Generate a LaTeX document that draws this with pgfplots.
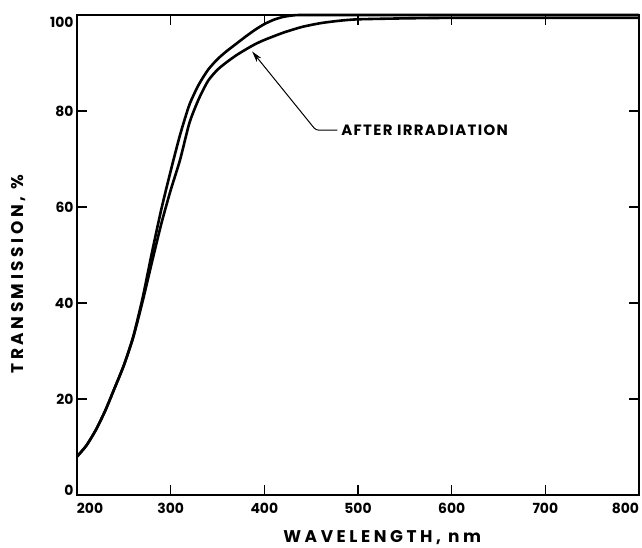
\documentclass[border=0pt]{standalone}
\usepackage{fontspec}
\setmainfont{Poppins}
\newfontfamily\widefont[LetterSpace=21]{Poppins}
\newfontfamily\notefont[LetterSpace=9]{Poppins}
\usepackage{pgfplots}
\pgfplotsset{compat=1.18}
\usetikzlibrary{arrows.meta}

\begin{document}
\begin{tikzpicture}
% page = 642 x 548 px, axis box starts at (77,495) px
\useasboundingbox (-77bp,-53bp) rectangle (565bp,495bp);
\begin{axis}[
    scale only axis,
    width=562bp, height=480bp,
    xmin=200, xmax=800,
    ymin=0, ymax=100,
    xtick={200,300,...,800},
    ytick={0,20,...,100},
    % end labels sit inside the box, as in the original
    xticklabels={{\makebox[0pt][l]{200}},300,400,500,600,700,{\makebox[0pt][r]{800}}},
    yticklabels={{\raisebox{0pt}[0pt][0pt]{0}},20,40,60,80,{\raisebox{-13bp}[0pt][0pt]{100}}},
    tick align=inside,
    major tick length=10bp,
    axis line style={line width=1.8bp},
    every tick/.style={line width=1.2bp, black},
    tick label style={font=\fontsize{14}{14}\selectfont\bfseries},
    xticklabel style={yshift=-5bp},
    xlabel={WAVELENGTH, nm},
    ylabel={TRANSMISSION, \%},
    label style={font=\widefont\fontsize{17}{17}\selectfont\bfseries},
    xlabel style={at={(axis description cs:0.543,0)}, anchor=center, yshift=-43bp},
    ylabel style={at={(axis description cs:0,0.46)}, anchor=center, yshift=58bp},
    clip=false,
]

% before irradiation
\addplot[black, line width=2.6bp, smooth, tension=0.4] coordinates {
    (200,8) (210,10.3) (220,13.5) (230,17.5) (240,22.2) (250,27) (260,33)
    (270,41) (280,50.5) (290,59.5) (300,67.5) (310,75) (320,81.3) (330,85.5)
    (340,88.6) (350,90.8) (360,92.5) (370,94) (380,95.5) (390,96.9) (400,98.1)
    (410,99) (420,99.6) (430,99.9) (440,100) (500,100) (600,100) (700,100) (800,100)
};

% after irradiation
\addplot[black, line width=2.6bp, smooth, tension=0.4] coordinates {
    (200,8) (210,10.3) (220,13.5) (230,17.5) (240,22.2) (250,27) (260,32.8)
    (270,40.3) (280,48.5) (290,56.5) (300,63.5) (310,69.8) (320,77.5) (330,82.5)
    (340,86.3) (350,88.6) (360,90.2) (370,91.6) (380,92.8) (390,93.9) (400,94.8)
    (420,96.3) (440,97.5) (460,98.3) (480,98.8) (500,99.1) (550,99.3) (600,99.4)
    (700,99.4) (800,99.4)
};

\draw[line width=1bp, rounded corners=3bp, -{Stealth[length=11bp,width=6bp]}]
    (axis cs:478,76) -- (axis cs:455,76) -- (axis cs:387,92.4);
\node[anchor=west, inner sep=0pt, font=\notefont\fontsize{15}{15}\selectfont\bfseries]
    at (axis cs:482,76) {AFTER IRRADIATION};

\end{axis}
\end{tikzpicture}
\end{document}
